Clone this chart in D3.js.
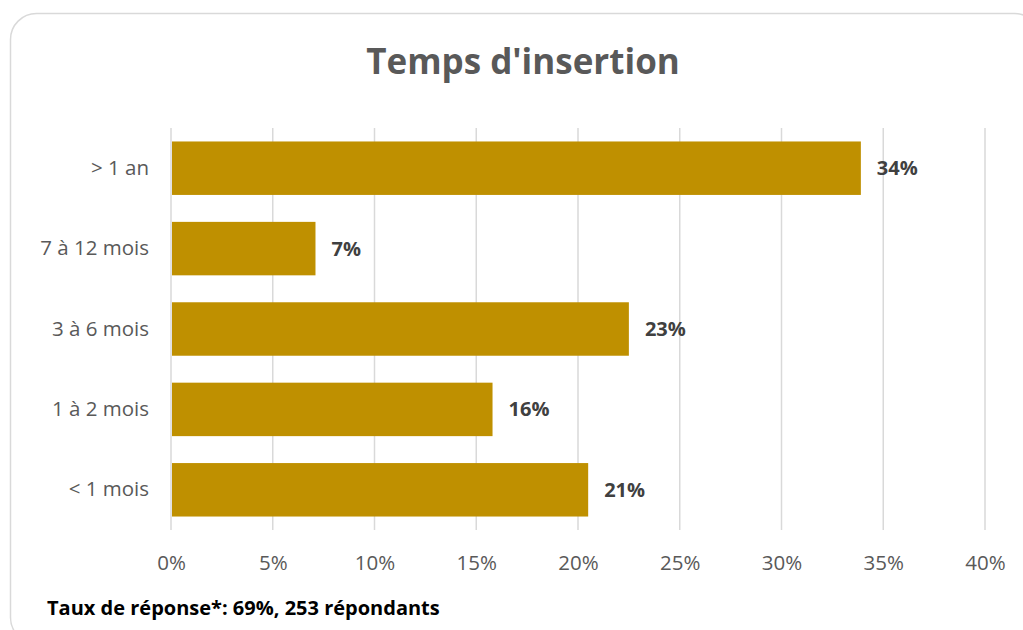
<!DOCTYPE html>
<html>
<head>
<meta charset="utf-8">
<script src="https://cdn.jsdelivr.net/npm/d3@7"></script>
<style>
  body { margin: 0; background: #fff; }
  svg text { font-family: "Open Sans", sans-serif; }
</style>
</head>
<body>
<svg id="chart"></svg>
<script>
var categories = ["> 1 an", "7 à 12 mois", "3 à 6 mois", "1 à 2 mois", "< 1 mois"];
var values = [33.9, 7.1, 22.5, 15.8, 20.5];
var valueLabels = ["34%", "7%", "23%", "16%", "21%"];
var ticks = [0, 5, 10, 15, 20, 25, 30, 35, 40];
var title = "Temps d'insertion";
var footnote = "Taux de réponse*: 69%, 253 répondants";

var width = 1023;
var height = 630;
var margin = { top: 128, right: 38, bottom: 100, left: 171 };

var svg = d3.select("#chart")
  .attr("width", width)
  .attr("height", height);

// outer frame
svg.append("rect")
  .attr("x", 10.5).attr("y", 13.5)
  .attr("width", 1030).attr("height", 630)
  .attr("rx", 26).attr("ry", 26)
  .attr("fill", "#fff")
  .attr("stroke", "#d9d9d9")
  .attr("stroke-width", 1.5);

var x = d3.scaleLinear()
  .domain([0, 40])
  .range([margin.left, width - margin.right]);

var y = d3.scaleBand()
  .domain(categories)
  .range([margin.top, height - margin.bottom])
  .paddingInner(0.335)
  .paddingOuter(0.1675);

// gridlines
svg.append("g")
  .selectAll("line")
  .data(ticks)
  .join("line")
  .attr("x1", function(d) { return x(d); })
  .attr("x2", function(d) { return x(d); })
  .attr("y1", margin.top)
  .attr("y2", height - margin.bottom)
  .attr("stroke", "#d9d9d9")
  .attr("stroke-width", 1.5);

// bars
svg.append("g")
  .selectAll("rect")
  .data(values)
  .join("rect")
  .attr("x", x(0) + 1)
  .attr("y", function(d, i) { return y(categories[i]); })
  .attr("width", function(d) { return x(d) - x(0) - 1; })
  .attr("height", y.bandwidth())
  .attr("fill", "#bf9000");

// value labels
svg.append("g")
  .selectAll("text")
  .data(values)
  .join("text")
  .attr("x", function(d) { return x(d) + 16; })
  .attr("y", function(d, i) { return y(categories[i]) + y.bandwidth() / 2; })
  .attr("dy", "0.35em")
  .attr("font-size", 20)
  .attr("font-weight", "bold")
  .attr("fill", "#404040")
  .text(function(d, i) { return valueLabels[i]; });

// y axis labels
var yAxis = d3.axisLeft(y).tickSize(0).tickPadding(22);
var gy = svg.append("g")
  .attr("transform", "translate(" + margin.left + ",0)")
  .call(yAxis);
gy.select(".domain").remove();
gy.selectAll("text")
  .attr("font-size", 20.5)
  .attr("font-family", "'Open Sans', sans-serif")
  .attr("fill", "#595959");

// x axis labels
var xAxis = d3.axisBottom(x)
  .tickValues(ticks)
  .tickSize(0)
  .tickPadding(25)
  .tickFormat(function(d) { return d + "%"; });
var gx = svg.append("g")
  .attr("transform", "translate(0," + (height - margin.bottom) + ")")
  .call(xAxis);
gx.select(".domain").remove();
gx.selectAll("text")
  .attr("font-size", 20.5)
  .attr("font-family", "'Open Sans', sans-serif")
  .attr("fill", "#595959");

// title
svg.append("text")
  .attr("x", 523)
  .attr("y", 74)
  .attr("text-anchor", "middle")
  .attr("font-size", 35)
  .attr("font-weight", "bold")
  .attr("fill", "#595959")
  .text(title);

// footnote
svg.append("text")
  .attr("x", 47)
  .attr("y", 615)
  .attr("font-size", 20)
  .attr("font-weight", "bold")
  .attr("fill", "#000")
  .text(footnote);
</script>
</body>
</html>
